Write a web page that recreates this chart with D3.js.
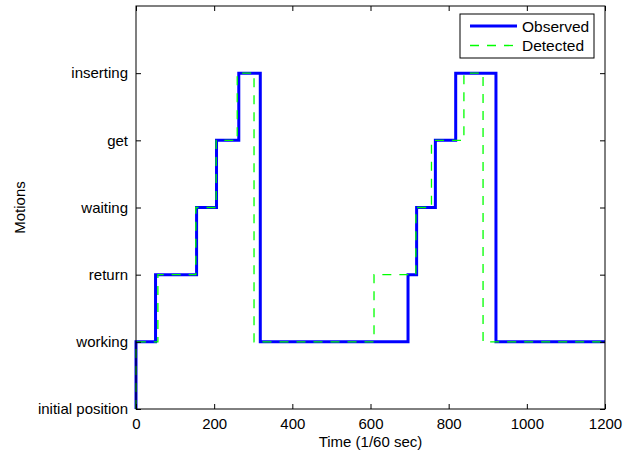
<!DOCTYPE html>
<html>
<head>
<meta charset="utf-8">
<script src="https://cdn.jsdelivr.net/npm/d3@7"></script>
<style>
  body { margin: 0; background: #fff; }
  text { font-family: "Liberation Sans", Arial, sans-serif; fill: #000; }
</style>
</head>
<body>
<svg id="chart" width="634" height="452"></svg>
<script>
// motion categories, bottom to top
const motions = ['initial position', 'working', 'return', 'waiting', 'get', 'inserting']
const xTicks = [0, 200, 400, 600, 800, 1000, 1200]

// step change points (time in 1/60 sec, motion index)
const observedTimes = [0, 0, 50, 155, 206, 263, 318, 696, 718, 766, 818, 921, 1200]
const observedStates = [0, 1, 2, 3, 4, 5, 1, 2, 3, 4, 5, 1, 1]
const detectedTimes = [0, 0, 56, 153, 205, 259, 302, 609, 716, 756, 839, 888, 1200]
const detectedStates = [0, 1, 2, 3, 4, 5, 1, 2, 3, 4, 5, 1, 1]

const margin = { left: 136, top: 6, right: 29, bottom: 43 }
const width = 634 - margin.left - margin.right
const height = 452 - margin.top - margin.bottom

const svg = d3.select('#chart')
const g = svg.append('g').attr('transform', `translate(${margin.left},${margin.top})`)

const x = d3.scaleLinear().domain([0, 1200]).range([0, width])
const y = d3.scaleLinear().domain([0, 6]).range([height, 0])

const line = d3.line()
  .x(d => x(d[0]))
  .y(d => y(d[1]))
  .curve(d3.curveStepAfter)

const observed = observedTimes.map((t, i) => [t, observedStates[i]])
const detected = detectedTimes.map((t, i) => [t, detectedStates[i]])

g.append('path')
  .datum(observed)
  .attr('d', line)
  .attr('fill', 'none')
  .attr('stroke', '#0000ff')
  .attr('stroke-width', 3)

g.append('path')
  .datum(detected)
  .attr('d', line)
  .attr('fill', 'none')
  .attr('stroke', '#00ff00')
  .attr('stroke-width', 1.3)
  .attr('stroke-dasharray', '9,8')

// axes with inward ticks, mirrored on top and right
const tickLen = 5
const fmt = d3.format('d')
g.append('g')
  .attr('transform', `translate(0,${height})`)
  .call(d3.axisBottom(x).tickValues(xTicks).tickFormat(fmt).tickSizeInner(-tickLen).tickSizeOuter(0).tickPadding(9))
g.append('g')
  .call(d3.axisTop(x).tickValues(xTicks).tickFormat('').tickSizeInner(-tickLen).tickSizeOuter(0))
g.append('g')
  .call(d3.axisLeft(y).tickValues(d3.range(motions.length)).tickFormat(i => motions[i]).tickSizeInner(-tickLen).tickSizeOuter(0).tickPadding(8))
g.append('g')
  .attr('transform', `translate(${width},0)`)
  .call(d3.axisRight(y).tickValues(d3.range(motions.length)).tickFormat('').tickSizeInner(-tickLen).tickSizeOuter(0))

g.selectAll('.domain').remove()
g.selectAll('.tick line').attr('stroke', '#000')
g.selectAll('.tick text').style('font-size', '15px')

g.append('rect')
  .attr('width', width)
  .attr('height', height)
  .attr('fill', 'none')
  .attr('stroke', '#000')
  .attr('stroke-width', 1)

// axis titles
svg.append('text')
  .attr('x', margin.left + width / 2)
  .attr('y', 447)
  .attr('text-anchor', 'middle')
  .style('font-size', '15px')
  .text('Time (1/60 sec)')

svg.append('text')
  .attr('transform', `translate(25,${margin.top + height / 2}) rotate(-90)`)
  .attr('text-anchor', 'middle')
  .style('font-size', '15px')
  .text('Motions')

// legend
const legend = svg.append('g').attr('transform', 'translate(460,14)')
legend.append('rect')
  .attr('width', 134)
  .attr('height', 44)
  .attr('fill', '#fff')
  .attr('stroke', '#000')

const legendItems = [
  { label: 'Observed', color: '#0000ff', w: 3, dash: null },
  { label: 'Detected', color: '#00ff00', w: 1.3, dash: '9,8' }
]
legendItems.forEach((d, i) => {
  const yy = 12 + i * 19.5
  legend.append('line')
    .attr('x1', 10).attr('x2', 57)
    .attr('y1', yy).attr('y2', yy)
    .attr('stroke', d.color)
    .attr('stroke-width', d.w)
    .attr('stroke-dasharray', d.dash)
  legend.append('text')
    .attr('x', 62)
    .attr('y', yy + 5.5)
    .style('font-size', '15.5px')
    .text(d.label)
})
</script>
</body>
</html>
